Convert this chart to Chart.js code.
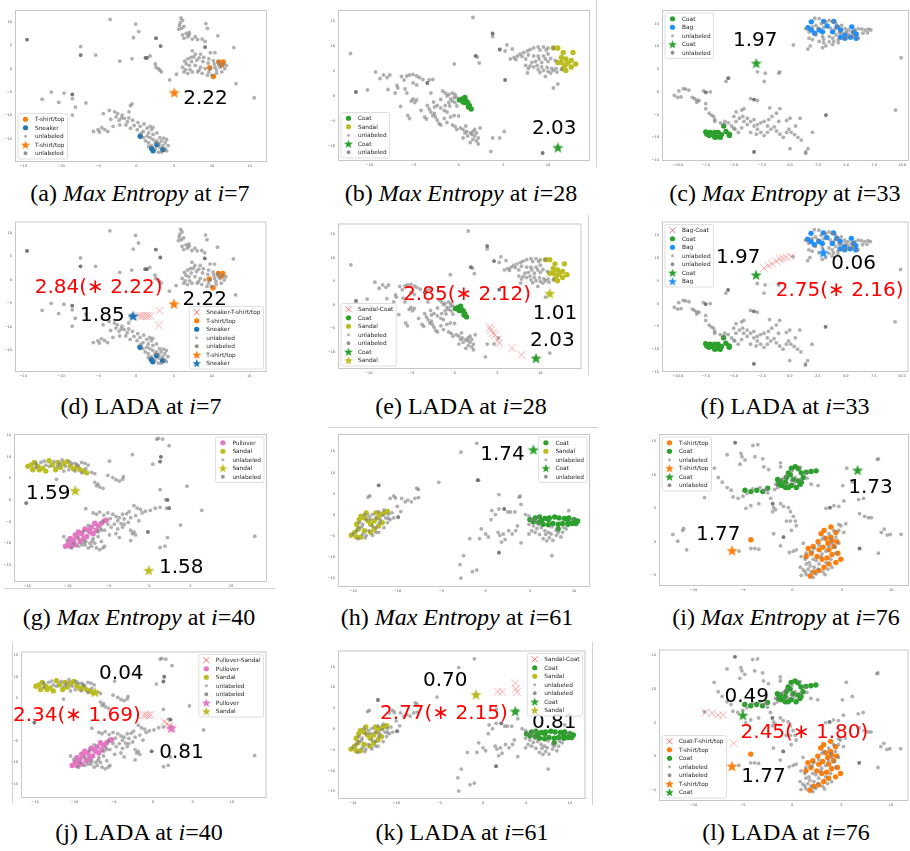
<!DOCTYPE html>
<html>
<head>
<meta charset="utf-8">
<script src="https://cdn.jsdelivr.net/npm/chart.js@4.4.1/dist/chart.umd.min.js"></script>
<style>
html, body { margin: 0; padding: 0; background: #fff; }
body { width: 910px; height: 851px; position: relative; overflow: hidden; }
canvas { position: absolute; }
.cap { position: absolute; font-family: "Liberation Serif", "Times New Roman", serif; font-size: 24px; line-height: 24px;
       color: #000; white-space: nowrap; transform: translateX(-50%); }
.rule { position: absolute; background: #d2d2d2; }
</style>
</head>
<body>
<script>
// ---------- embeddings: step 7 (T-shirt/top vs Sneaker) ----------
const fieldA = [[-14.5,6.2],[-3.5,10.5],[-0.1,9.5],[-0.4,6.6],[0.3,7.9],[-7.4,4.7],[-7.4,2.9],[-5.4,2.9],[-2.2,1.6],[-0.6,2.1],[1.2,2.3],[1.4,2.3],[1.8,2.7],[2.6,6.5],[3.2,4.8],[2.5,1.0],[2.6,0.3],[2.9,0],[3.1,-0.3],[3.3,-0.7],[4.4,-2.4],[5.3,-1.2],
 [5.9,10.8],[6.1,10.3],[5.7,9.2],[5.6,8.4],[6.0,8.6],[6.1,7.2],[6.6,7.5],[7.0,7.7],[6.8,6.8],[6.3,6.5],[7.4,6.3],[8.1,6.2],[8.7,6.3],[9.1,5.8],[9.1,4.6],[9.2,9.6],[9.4,8.6],[10.8,7.0],[12.9,4.5],[13.2,-3.2],[15.6,-6.2],[7.4,3.8],[7.8,3.1],[8.5,3.1],[9.8,3.4],[10.4,3.4],
 [6.8,2.1],[7.2,2.4],[7.6,2.5],[8.3,2.3],[8.9,2.4],[9.6,2.1],[10.2,1.7],[10.9,1.4],[11.5,1.0],[11.9,0.7],[11.7,0],[11.3,-0.7],[10.6,-1.0],[10.0,-1.4],[9.4,-1.4],[8.7,-1.0],[8.1,-0.7],[7.4,-0.7],[6.8,-1.0],[6.3,-0.7],[6.1,0.3],[6.6,1.0],[7.0,0.7],[7.8,0.7],[8.5,0.3],[9.1,0],[9.8,0],[10.4,0.3],[11.1,0.3],
 [6.4,1.6],[7.3,1.5],[8.0,1.8],[8.8,1.5],[9.5,1.2],[10.3,1.0],[10.9,0.8],[7.1,-0.2],[8.3,-0.3],[9.6,-0.7],[10.6,-0.3],[6.5,-0.2],[5.8,9.8],[6.3,9.0],[7.0,7.2],[7.8,6.8],
 [-12.5,-6.5],[-11.3,-5.0],[-10.3,-7.2],[-9.6,-5.2],[-8.5,-5.5],[-8.5,-6.4],[-8.1,-8.2],[-8.5,-9.9],[-6.7,-7.3],[-5.7,-13.4],[-4.9,-13.5],[-4.2,-13.0],[-3.8,-13.4],[-5.1,-13.0],[-4.4,-9.6],[-3.6,-8.9],
 [-3.4,-10.8],[-2.9,-9.2],[-2.7,-10.3],[-2.5,-9.6],[-2.3,-11.0],[-1.9,-9.9],[-1.6,-10.6],[-1.2,-11.3],[-0.8,-7.9],[-0.6,-7.5],[-1.0,-9.2],[-3.1,-12.3],
 [-1.4,-12.0],[-0.8,-12.7],[-0.3,-12.1],[0.1,-13.0],[0.5,-12.3],[0.9,-13.4],[1.4,-12.7],[1.6,-13.7],[2.0,-13.0],[2.2,-14.0],[2.7,-13.7],[3.1,-14.7],[3.3,-15.4],[3.8,-15.8],[4.0,-15.1],[3.5,-16.4],[3.1,-16.8],[2.7,-15.4],[2.2,-15.1],[1.8,-14.7],[1.4,-14.4],[0.9,-14.7],[1.2,-15.4],[1.6,-15.8],[2.0,-16.4],[2.5,-17.1],[2.9,-17.8],[3.3,-17.8],[3.8,-17.1],[4.2,-16.4],[4.0,-17.5],[1.8,-12.3],[2.2,-12.5],
 [-2.0,-10.5],[-1.0,-10.5],[0.2,-11.5],[1.0,-11.8],[-0.5,-11.0],[2.5,-15.8],[3.0,-16.0],[1.6,-16.6],[3.6,-14.8],[0.6,-13.8],[-2.2,-12.0],[-4.6,-12.6]];
const fieldADark = [[-14.5,6.2],[-7.4,2.9],[3.2,4.8],[-8.5,-5.5],[1.2,2.3],[1.4,2.3],[9.1,4.6],[2.6,6.5]];
const tshirtA = [[9.7,0.2],[10.2,-1.7],[10.9,1.4],[11.5,1.4],[11.3,0.8]];
const sneakerA = [[0.5,-14.4],[2.0,-17.0],[2.2,-17.5],[2.7,-16.2],[3.5,-17.3]];
const queryA_tshirt = [[5.0,-5.1]];
const queryD_tshirt = [[5.0,-5.1]];
const queryD_sneaker = [[-0.4,-7.7]];
const pathD = [[0.3,-7.7],[0.6,-7.7],[0.95,-7.7],[1.3,-7.7],[1.6,-7.7],[1.9,-7.7],[3.1,-6.6],[3.0,-9.7]];

// ---------- embeddings: step 28 (Coat vs Sandal) ----------
const fieldB = [[-12.1,8.5],[-11.5,0.8],[-10.2,1.2],[-9.3,4.8],[-8.8,3.5],[-8.4,4.2],[-8.0,3.7],[-7.7,4.2],[-7.9,1.3],[-7.1,0.6],[-6.9,2.1],[-6.8,1.6],[-6.5,-2.1],
 [-6.4,3.9],[-6.1,3.2],[-5.8,4.0],[-5.5,4.2],[-5.1,4.3],[-4.7,4.0],[-4.4,3.7],[-4.0,3.3],[-6.0,1.4],[-5.8,0.6],[-5.1,2.6],[-4.7,2.2],[-5.3,-1.0],[-4.9,-1.3],[-5.1,-0.6],[-4.7,-0.8],[-5.7,-3.9],[-5.5,-4.5],[-4.2,-2.9],[-3.8,-4.2],[-3.6,-4.6],[-3.5,2.6],[-3.3,3.2],[-2.9,3.3],[-3.1,0.6],
 [-3.5,-1.9],[-3.3,-2.6],[-3.1,-3.2],[-2.9,-3.9],[-2.7,-3.5],[-2.6,-4.2],[-2.4,-4.8],[-2.2,-5.5],[-2.7,-2.2],[-2.4,-1.9],[-2.0,-2.4],[-1.6,-2.9],[-1.5,-1.9],[-1.1,-1.3],[-0.7,-1.0],[-0.4,-1.3],[-1.3,-3.2],[-0.9,-4.2],[-0.5,-3.9],[-1.6,-4.5],[-2.0,-5.8],[-1.3,-5.3],
 [-1.8,1.0],[-1.5,0.6],[-1.1,0.3],[-0.7,0.6],[-0.4,0.3],[-0.2,-0.3],[-0.5,-0.3],[-0.9,-0.6],[-1.3,0],
 [-0.7,-5.8],[-0.4,-6.1],[-0.2,-6.7],[0.2,-6.4],[0.5,-6.7],[0.7,-7.4],[0.9,-7.1],[1.3,-7.4],[1.5,-7.7],[1.6,-7.1],[1.8,-6.7],[2.0,-7.4],[2.2,-8.4],[2.0,-9.0],[1.6,-8.7],[1.3,-9.3],[2.2,-9.6],[2.4,-6.4],[0.5,-8.4],
 [-2.8,-1.2],[-2.0,-0.7],[-1.0,-2.0],[-0.2,-2.0],[0.0,-4.0],[0.8,-6.0],[1.0,-8.0],[1.8,-8.0],
 [1.6,15.7],[3.8,12.5],[3.8,11.9],[1.9,8.0],[2.1,7.8],[2.3,6.6],[-0.5,6.4],[3.6,-11.1],[3.8,-8.4],[4.6,-8.4],[5.1,-7.1],[5.2,3.2],[4.6,9.3],[5.2,9.0],[5.4,10.2],[6.0,9.4],[9.4,-11.4],[11.1,-10.3],[10.6,1.6],[11.1,2.4],[9.7,3.9],[7.7,4.6],
 [5.8,7.4],[6.2,7.7],[6.6,8.0],[6.9,8.4],[7.3,8.7],[7.7,9.0],[8.0,9.3],[8.4,9.6],[8.9,9.8],[9.5,9.8],[10.0,9.6],[10.6,9.6],[7.8,8.2],[8.4,8.0],[8.9,8.0],[9.5,8.0],[10.0,8.4],[7.5,7.4],[8.2,6.7],[8.8,6.1],[9.3,5.8],[9.9,5.7],[10.4,5.5],[10.9,5.5],[11.5,5.3],[8.4,5.8],[8.9,5.3],[9.5,5.1],[10.0,4.9],[10.6,5.1],[7.5,6.1],[7.8,5.5],[8.6,6.9],[9.3,6.7],[10.0,6.9],[10.8,7.1],
 [6.4,7.3],[7.1,7.9],[9.1,9.2],[9.8,9.2],[9.0,7.4],[9.7,7.4],[10.3,7.5],[8.0,6.0],[9.1,4.7],[10.3,4.6],[11.0,4.8]];
const fieldBDark = [[-11.5,0.8],[3.8,12.5],[5.2,3.2],[9.4,-11.4],[-3.5,2.6],[1.9,8.0],[4.6,9.3]];
const coatB = [[0.1,-0.8],[0.4,-0.6],[0.7,-0.3],[0.8,-1.0],[1.0,-1.3],[1.2,-1.9],[1.4,-2.6],[1.1,-2.2],[0.7,-1.3],[0.5,-1.2]];
const sandalB = [[10.6,9.6],[11.1,9.6],[11.7,8.7],[11.5,7.7],[12.0,7.4],[12.2,6.6],[11.9,6.1],[12.6,7.1],[12.8,8.7],[13.1,6.4],[12.6,5.8],[11.7,5.5],[12.0,5.1],[11.1,6.7],[11.5,6.7]];
const queryB_coat = [[11.1,-10.3]];
const queryE_coat = [[9.5,-11.4]];
const queryE_sandal = [[11.1,2.4]];
const pathE = [[4.1,-4.8],[4.2,-5.4],[4.5,-6.0],[4.7,-6.5],[5.0,-7.5],[5.2,-8.2],[6.7,-9.3],[7.8,-10.7]];

// ---------- embeddings: step 33 (Coat vs Bag) ----------
const fieldC = [[-10.3,-0.8],[-10.0,-1.2],[-9.7,-1.1],[-9.9,0.2],[-9.5,0.7],[-9.3,0.6],[-9.0,0.4],[-8.7,-1.2],[-8.5,-1.5],[-8.3,-1.8],[-8.1,-1.9],[-8.3,-2.3],[-7.7,0.2],[-7.5,-0.1],[-7.1,0],[-7.5,-2.6],[-7.5,-3.7],[-7.2,-4.7],[-7.0,-5.1],[-6.8,-5.4],[-6.7,-6.1],[-6.7,-6.5],
 [-6.2,-6.8],[-5.9,-7.2],[-5.8,-6.5],[-5.5,-6.8],[-5.2,-7.5],[-4.9,-8.2],[-4.6,-8.9],[-4.3,-7.9],[-4.8,-6.5],[-4.5,-5.8],[-4.2,-5.4],[-4.1,-3.7],[-4.3,-4.0],[-4.8,-4.4],[-5.0,-5.4],
 [-5.7,2.3],[-5.5,3.0],[-3.5,-1.5],[-3.2,-1.7],[-2.9,-1.9],[-2.9,4.4],[-2.2,4.1],[-2.3,2.3],[-1.0,4.1],[-0.9,4.4],[0.3,10.3],
 [-4.1,-6.5],[-3.8,-7.2],[-3.5,-6.5],[-3.2,-7.5],[-2.9,-8.2],[-2.6,-8.9],[-2.3,-9.6],[-2.0,-8.9],[-1.7,-8.2],[-1.4,-7.7],[-1.2,-8.6],[-0.9,-9.3],[-0.6,-10.0],[-0.3,-8.9],[-0.1,-8.2],[0.1,-8.9],[0.4,-9.4],[0.7,-10.0],[1.0,-10.6],[0,-5.8],[-0.3,-6.3],[-0.9,-3.7],[-1.2,-4.7],[-1.6,-5.4],[-1.9,-6.1],[-2.3,-6.5],[-2.6,-6.8],[-2.9,-7.2],[-3.2,-6.1],[-3.5,-8.9],[-3.0,-9.3],
 [-2.0,-7.5],[-1.0,-6.5],[0.5,-7.5],[-3.8,-5.8],[-5.0,-8.0],
 [-3.2,-13.2],[0,-12.5],[1.4,-13.2],[1.4,-13.5],[1.6,-12.5],[2.0,-8.9],[0.9,-5.8],[3.2,-5.1],[-1.8,-3.5],[9.4,-4.0],[9.9,7.5],
 [1.4,13.9],[1.7,13.2],[2.0,14.3],[2.3,14.6],[2.8,15.0],[3.2,15.4],[3.5,15.7],[3.8,15.4],[4.1,15.0],[4.3,14.3],[4.6,14.6],[4.9,13.9],[5.2,13.6],[5.5,13.2],[5.8,13.6],[6.1,13.9],[6.4,13.8],[6.7,13.6],[7.0,13.8],[7.2,13.6],[1.7,11.8],[2.0,11.5],[2.6,11.1],[3.0,10.8],[3.5,11.0],[3.9,11.1],[4.3,11.5],[4.8,11.8],[5.2,12.0],[5.7,12.2],[6.1,11.8],[2.9,12.2],[3.5,12.2],[4.1,12.5],[4.6,12.9],[5.2,12.7],[2.2,16.2],[2.6,16.1],[1.6,9.4],[1.8,10.1],[3.2,10.1],[3.8,10.4],[2.9,9.7],[4.3,10.8],
 [2.5,14.0],[3.0,14.2],[3.6,14.0],[4.0,13.8],[4.4,13.0],[5.0,13.2],[5.6,12.6],[6.5,12.9],[3.0,11.6],[3.8,11.8],[2.3,12.5],[6.9,13.0]];
const fieldCDark = [[3.2,-5.1],[-3.2,-13.2],[-5.5,3.0],[-3.2,-1.7],[-7.5,-0.1]];
const coatC = [[-7.5,-8.8],[-7.4,-9.3],[-7.1,-8.9],[-6.9,-9.4],[-6.7,-10.0],[-6.5,-9.9],[-6.2,-10.0],[-6.1,-9.4],[-5.9,-7.5],[-5.7,-8.7],[-5.4,-9.3],[-5.4,-9.6],[-7.2,-9.6],[-6.7,-8.9],[-6.4,-8.9]];
const bagC = [[1.6,14.1],[1.9,13.6],[2.6,13.6],[3.0,15.5],[3.3,14.5],[3.9,15.5],[4.2,14.3],[4.5,13.6],[4.9,12.5],[4.5,12.0],[4.9,11.8],[5.4,12.0],[5.7,13.2],[5.9,12.7],[5.9,11.8],[5.5,14.3],[1.9,15.4],[3.8,13.2],[2.9,13.2],[2.2,12.9]];
const queryC_coat = [[-3.0,6.3]];
const queryF_coat = [[-3.0,6.3]];
const queryF_bag = [[3.0,11.2]];
const pathF = [[-2.3,7.8],[-1.9,8.3],[-1.6,8.7],[-1.2,9.3],[-0.9,9.8],[-0.6,9.9],[-0.3,10.1],[0.1,10.3]];

// ---------- embeddings: step 40 (Pullover vs Sandal) ----------
const fieldG = [[-13.9,8.5],[-13.3,8.7],[-12.7,8.1],[-12.3,7.8],[-11.7,8.9],[-11.3,7.8],[-10.7,9.3],[-10.3,7.8],[-9.9,7.0],[-9.5,8.5],[-9.1,8.5],[-8.7,7.9],[-8.3,8.7],[-7.9,8.5],[-7.5,8.1],[-7.1,6.4],[-6.7,6.1],[-8.3,6.3],[-9.1,6.7],[-10.5,6.7],
 [-12.9,9.0],[-11.0,8.4],[-9.8,8.9],[-8.9,8.2],[-7.8,7.3],[-13.9,7.6],
 [-15.1,-0.7],[-11.4,4.8],[-6.7,4.1],[-6.5,3.3],[-6.3,3.7],[-6.1,3.0],[-5.7,2.7],[-5.1,5.7],[-4.5,5.2],[-4.1,4.7],[-3.7,4.4],[-3.3,4.8],[-3.2,5.4],[-4.9,9.0],[-2.1,10.5],[0.4,8.3],[1.3,8.9],[1.4,10.0],[0.9,14.1],[1.1,14.3],[1.6,14.1],[2.4,12.6],[1.3,2.4],[2.0,0.1],[2.2,0],[2.4,-1.9],[4.6,3.2],[6.4,-2.4],[3.8,-5.8],[2.2,-8.7],[1.9,-10.7],[1.3,-11.0],[-0.2,-7.4],[12.9,-8.4],
 [-7.8,-2.0],[-6.9,-3.0],[-6.5,-3.3],[-6.1,-2.8],[-5.6,-3.5],[-5.1,-3.0],[-4.5,-3.3],[-4.1,-3.8],[-3.7,-4.1],[-3.3,-3.3],[-2.8,-3.2],[-2.5,-2.7],[-1.9,-1.3],[-1.5,-1.9],[-1.1,-2.2],[-0.9,-3.0],[-0.5,-2.6],[0.1,-2.4],[0.7,-1.9],[1.3,-1.7],[2.1,-1.9],[-1.7,-3.6],[-2.3,-4.1],[-3.1,-4.4],[-3.9,-4.8],[-4.3,-5.6],[-4.7,-6.3],[-5.1,-5.6],[-5.7,-5.0],[-5.5,-7.0],[-4.9,-8.1],[-4.1,-7.8],[-3.7,-8.7],[-3.3,-6.3],[-2.3,-7.0],[-2.1,-7.8],[-1.9,-7.4],[-1.7,-8.1],[-2.3,-9.4],[-3.1,-5.6],[-3.9,-6.7],[-6.3,-8.5],[-5.9,-9.6],[-6.7,-10.0],[-6.5,-11.1],[-5.7,-11.1],[-5.5,-10.7],[-6.1,-11.5],[-7.1,-10.7],[-7.5,-11.1],[-7.9,-10.4],
 [-10.1,-9.3],[-9.5,-11.1],[-8.7,-10.7],[-8.3,-10.4],[-7.8,-9.6],[-7.3,-10.0],[-6.9,-8.9],[-6.3,-7.4],[-5.9,-7.0],[-7.5,-5.9],[-8.1,-7.2],[-8.7,-8.9],
 [-10.5,-8.5],[-9.3,-10.1],[-8.0,-9.8],[-7.0,-9.5],[-6.0,-6.5],[-4.8,-4.3],[-3.5,-5.5],[-2.6,-5.2],[-1.3,-4.8]];
const fieldGDark = [[-15.1,-0.7],[2.2,0],[2.4,-1.9],[-0.2,-7.4],[1.4,10.0],[1.3,8.9]];
const pulloverG = [[-10.3,-10.7],[-9.9,-10.0],[-9.7,-8.9],[-9.3,-9.3],[-8.9,-8.4],[-8.7,-7.4],[-8.3,-7.8],[-7.9,-6.7],[-7.5,-7.0],[-7.1,-6.3],[-6.7,-5.4],[-6.3,-5.9],[-5.9,-5.4],[-5.5,-4.8],[-5.3,-4.7],[-9.7,-10.7],[-9.1,-10.4],[-8.5,-9.6],[-8.1,-8.9],[-7.7,-8.5],[-7.3,-7.4],[-6.9,-7.8],[-6.5,-7.0],[-9.1,-8.1],[-9.5,-9.6]];
const sandalG = [[-14.9,7.8],[-14.5,8.1],[-14.1,8.7],[-13.7,7.8],[-13.1,7.4],[-12.3,9.1],[-11.9,8.1],[-11.5,7.0],[-10.9,7.6],[-10.5,8.5],[-10.1,8.9],[-9.7,7.9],[-9.3,7.2],[-8.9,7.6],[-8.5,7.0],[-8.1,6.7],[-7.7,6.3],[-12.7,6.7],[-13.5,7.0],[-14.3,7.0],[-11.2,8.7]];
const queryG_sandal = [[-9.1,2.2],[-0.1,-16.3]];
const queryJ_pullover = [[2.3,-2.0]];
const queryJ_sandal = [[-7.4,6.4]];
const pathJ = [[-1.2,1.0],[-0.9,1.0],[-0.6,1.0],[-0.3,1.1],[1.4,-0.5],[1.8,-1.0],[2.1,-1.5],[2.4,-2.0]];

// ---------- embeddings: step 61 (Coat vs Sandal) ----------
const fieldH = [[-15.0,-4.5],[-14.6,-3.7],[-14.3,-3.0],[-13.9,-2.2],[-13.5,-1.1],[-13.2,-0.3],[-12.8,0.1],[-12.4,-0.7],[-12.1,0.8],[-11.5,1.2],[-11.0,0.1],[-10.6,0.5],[-10.4,-0.7],[-10.8,-1.1],[-11.3,-0.7],[-11.9,-1.1],[-12.4,-3.0],[-13.2,-3.7],[-13.9,-4.5],[-14.4,-5.6],[-13.5,-4.8],[-12.8,-4.8],[-12.4,-4.1],[-11.1,-1.8],[-11.5,-3.0],[-12.1,-4.1],[-13.7,0.1],[-14.3,-1.8],
 [-14.0,-2.8],[-13.0,-1.0],[-12.0,-1.8],[-11.6,-0.1],[-12.8,-2.6],[-13.6,-5.4],[-11.0,-0.8],
 [-13.3,4.2],[-13.1,4.5],[-12.1,7.0],[-10.8,3.9],[-10.4,4.5],[-10.2,4.0],[-10.0,2.0],[-9.9,-0.5],[-9.5,3.9],[-9.1,3.1],[-8.8,3.5],[-8.4,3.1],[-8.0,3.9],[-7.6,4.1],[-7.8,6.3],[-7.6,6.0],[-9.6,0.8],[-5.3,7.7],[-2.8,14.8],[-1.0,16.9],[-0.9,8.2],[-0.8,8.2],
 [1.5,4.8],[3.8,4.2],[3.9,4.5],[4.0,2.5],[1.5,1.4],[2.1,1.4],[2.5,0.7],[2.8,0.7],[3.3,0.7],[0.7,1.0],[1.1,0.1],[0.6,-1.1],[-0.5,-3.3],[0,-4.5],[0.3,-5.2],[-1.8,-5.6],[-0.7,-5.6],[1.4,-4.1],[1.6,-4.8],[2.0,-4.5],[2.2,-5.8],[2.6,-3.7],[3.0,-4.5],[3.4,-3.7],[3.6,-2.6],[4.0,-6.6],[1.8,-6.4],[1.5,-8.9],[-2.5,-9.6],[-2.9,-11.7],[-2.8,-14.9],[-1.5,-13.4],[-1.0,-13.0],[7.5,-9.6],[9.4,1.0],
 [4.5,0.1],[4.9,-0.3],[5.2,-1.1],[5.6,-1.4],[6.0,-2.2],[6.3,-3.0],[6.7,-3.7],[7.1,-4.1],[7.4,-4.5],[8.0,-4.8],[8.5,-5.2],[5.2,-3.7],[5.6,-4.1],[6.1,-4.6],[6.5,-5.6],[6.9,-6.1],[7.2,-5.4],[7.6,-6.0],[8.2,-4.1],[8.7,-4.1],[9.1,-3.3],[4.9,-2.2],[5.4,-2.6],[4.9,-4.5],
 [6.0,-0.6],[7.5,-2.8],[8.8,-2.9],[9.8,-1.0],[6.8,-4.6],[5.8,-3.2],[8.0,-3.6]];
const fieldHDark = [[-12.1,7.0],[1.5,-8.9],[-0.9,8.2],[2.1,1.4],[-9.9,-0.5]];
const coatH = [[5.0,-1.1],[5.6,-0.7],[6.1,-0.5],[6.7,-0.8],[7.2,-0.7],[7.8,-0.5],[8.3,-0.7],[8.9,-0.8],[9.4,-0.7],[10.0,-1.1],[10.4,-1.4],[9.8,-2.0],[9.3,-2.2],[8.7,-2.0],[8.2,-2.2],[7.6,-2.0],[7.1,-2.3],[6.5,-2.2],[6.0,-1.8],[5.4,-1.6],[8.2,-3.3],[7.1,-1.1],[9.3,-1.4],[10.2,-2.0],[6.3,-1.3]];
const sandalH = [[-15.2,-4.8],[-14.8,-4.1],[-14.4,-3.3],[-14.6,-2.2],[-14.3,-1.1],[-14.1,-0.3],[-13.7,-0.7],[-13.3,-1.4],[-13.0,-2.2],[-12.6,-1.4],[-12.2,-0.7],[-11.9,0.1],[-11.5,0.5],[-11.1,0.8],[-13.0,-4.1],[-12.6,-3.3],[-12.1,-2.6],[-11.7,-1.8],[-13.7,-3.7],[-14.1,-5.2],[-14.6,-5.2],[-13.5,0.5],[-12.4,0.5]];
const queryH_coat = [[5.4,15.4]];
const queryK_coat = [[3.7,4.3]];
const queryK_sandal = [[-0.8,8.3]];
const pathK = [[1.7,9.0],[2.2,9.0],[3.7,11.0],[3.8,9.7],[3.9,8.9]];

// ---------- embeddings: step 76 (T-shirt/top vs Coat) ----------
const fieldI = [[-12.1,1.1],[-11.6,0.1],[-11.1,1.7],[-11.0,2.0],[-10.7,-1.2],[-8.9,6.6],[-7.9,11.0],[-6.6,13.0],[-5.8,14.8],[-5.2,13.2],[-5.1,12.7],[-4.8,12.2],[-5.3,11.6],[-4.0,14.4],[-3.5,14.5],[-3.8,12.7],[-3.0,12.4],[-2.9,11.2],[-2.4,10.8],[-1.2,11.8],[-7.5,9.6],[-7.1,8.9],[-6.6,8.1],[-6.2,7.7],[-6.0,6.7],[-5.5,6.5],[-5.0,6.8],[-4.6,7.2],[-4.2,5.4],[-4.7,5.0],[-3.4,5.7],[-2.9,7.7],[-2.5,7.3],[-2.2,6.5],[-2.0,5.7],[-1.9,5.1],[-1.7,4.8],[-2.0,4.5],[-1.2,5.7],[-0.9,5.3],[-0.4,5.1],[-0.2,4.5],[0.1,3.8],[0.3,3.1],[-0.2,3.1],[-0.6,3.1],[0.4,2.4],[-0.1,1.7],[-1.7,8.6],[-1.5,8.1],[-1.1,9.3],[0.8,9.3],[1.4,10.3],[1.9,8.6],[2.6,8.4],[3.4,5.0],[3.8,5.1],[4.2,5.4],[4.7,5.3],[5.2,6.1],[5.1,8.4],[5.5,11.0],[6.1,8.9],[6.7,6.3],[7.2,6.5],[6.8,4.2],[7.3,3.8],[7.7,3.6],[8.0,3.6],[8.6,12.3],[8.7,12.4],[9.0,1.4],[9.3,1.9],[9.6,1.0],[9.9,1.1],[11.0,1.1],[6.8,-1.0],[8.7,-1.7],[-5.4,-1.4],[-4.2,-1.0],[-3.8,-1.0],[-3.4,-1.1],[-1.2,-0.6],[-0.9,0.7],[-1.9,1.2],[-0.3,-1.6],[0.1,-1.4],[0.4,-1.2],[1.1,-0.2],[-1.2,11.2],[-0.6,9.9],[-0.1,9.1],[0.3,9.6],[-0.9,9.5],[0.2,8.8],[-1.8,7.8],[-3.3,8.1],
 [0.0,10.6],[0.8,11.1],[-0.5,8.7],[1.5,9.5],[-2.6,7.9],[-4.0,7.9],
 [0.9,-2.2],[1.3,-2.6],[1.4,-3.3],[1.7,-3.1],[2.1,-2.6],[1.6,-4.1],[1.3,-4.5],[0.9,-5.0],[1.4,-4.9],[1.9,-4.5],[2.2,-3.8],[2.6,-4.1],[2.7,-3.3],[3.1,-4.5],[3.4,-3.1],[2.9,-2.2],[3.4,-1.4],[3.7,-0.7],[4.0,-0.2],[4.4,0.7],[4.7,1.7],[4.9,2.4],[5.4,2.7],[5.2,1.4],[4.7,-0.2],[4.4,-1.7],[3.9,-2.6],[3.6,-4.1],[2.4,-4.8],[2.1,-5.3],[0.8,-3.8],[1.4,-1.7],[2.2,-1.0],[2.7,-0.5],[3.2,0.7],[3.7,1.2],[4.2,1.7],[4.7,2.6],
 [1.8,-3.6],[2.4,-2.8],[3.0,-1.8],[2.0,-1.5],[3.3,-4.9],[1.1,-4.2],[4.0,-3.8],[3.9,0.4],[4.3,-0.8],[3.0,0.4]];
const fieldIDark = [[3.8,5.1],[-0.9,0.7],[-2.0,5.7],[6.8,-1.0],[-5.8,14.8]];
const tshirtI = [[3.9,2.2],[3.2,1.7],[2.9,1.2],[3.4,0.5],[3.9,0.7],[4.4,1.4],[4.5,0],[4.2,-0.7],[3.7,-1.2],[3.1,-0.8],[2.6,0],[2.1,-0.7],[1.9,-1.7],[2.5,-2.2],[3.0,-2.6],[3.5,-2.4],[4.0,-1.9],[4.6,-1.7],[4.9,-2.6],[4.4,-3.1],[3.7,-3.3],[3.2,-3.8],[2.7,-4.3],[2.2,-4.5],[1.8,-5.1],[1.4,-2.2],[1.6,-1.0],[2.7,-1.2],[3.6,-0.2],[4.0,0.2],[-4.2,0.3]];
const coatI = [[-4.8,7.7],[-4.2,7.5],[-3.6,7.7],[-3.0,7.5],[-2.5,8.0],[-1.4,8.6],[-1.1,8.4],[-0.7,8.9],[-0.6,9.6],[-0.4,10.3],[-0.1,11.0],[0.3,11.2],[0.6,10.9],[0.9,10.3],[1.1,9.6],[0.8,8.6],[0.4,8.1],[-0.1,8.4],[-0.4,8.1],[-0.7,8.1],[0.1,9.3],[0.6,9.1],[0.9,8.9],[1.4,10.4],[1.9,10.5],[2.4,10.6],[-0.2,10.0],[-1.2,9.1],[-1.5,9.3]];
const queryI_tshirt = [[-6.1,-1.3]];
const queryI_coat = [[6.6,10.7]];
const queryL_tshirt = [[-6.1,-1.5]];
const queryL_coat = [[-5.0,6.1]];
const pathL = [[-8.8,6.5],[-8.1,6.4],[-7.5,6.1],[-7.0,6.1],[-5.9,1.9]];

// ---------- uncertainty scores printed on each panel ----------
const scoresA = ["2.22"];
const scoresB = ["2.03"];
const scoresC = ["1.97"];
const scoresD = ["2.84(∗ 2.22)", "1.85", "2.22"];
const scoresE = ["2.85(∗ 2.12)", "1.01", "2.03"];
const scoresF = ["1.97", "0.06", "2.75(∗ 2.16)"];
const scoresG = ["1.59", "1.58"];
const scoresH = ["1.74"];
const scoresI = ["1.77", "1.73"];
const scoresJ = ["0.04", "2.34(∗ 1.69)", "0.81"];
const scoresK = ["0.70", "2.77(∗ 2.15)", "0.81"];
const scoresL = ["0.49", "2.45(∗ 1.80)", "1.77"];

// ---------- captions ----------
const panelLetters = ["a","b","c","d","e","f","g","h","i","j","k","l"];
const panelMethods = ["Max Entropy","Max Entropy","Max Entropy","LADA","LADA","LADA","Max Entropy","Max Entropy","Max Entropy","LADA","LADA","LADA"];
const panelSteps = [7, 28, 33, 7, 28, 33, 40, 61, 76, 40, 61, 76];

// ---------- styling ----------
const COL = { tshirt: '#ff7f0e', sneaker: '#1f77b4', coat: '#2ca02c', sandal: '#bcbd22', bag: '#1e90ff', pullover: '#e377c2' };
const GRAY = 'rgba(128,128,128,0.62)';
const GRAY_DARK = 'rgba(100,100,100,0.7)';
const XRED = 'rgba(255,0,0,0.3)';
const FONT = '"DejaVu Sans", "Liberation Sans", sans-serif';

function starImage(color, r) {
  const size = Math.ceil(r * 2 + 2);
  const c = document.createElement('canvas');
  c.width = c.height = size;
  const g = c.getContext('2d');
  g.translate(size / 2, size / 2 + r * 0.08);
  g.beginPath();
  for (let k = 0; k < 10; k++) {
    const rr = k % 2 === 0 ? r : r * 0.4;
    const ang = -Math.PI / 2 + k * Math.PI / 5;
    g.lineTo(rr * Math.cos(ang), rr * Math.sin(ang));
  }
  g.closePath();
  g.fillStyle = color;
  g.fill();
  return c;
}
const STARS = {};
Object.keys(COL).forEach(k => { STARS[k] = starImage(COL[k], 6); });

const pts = arr => arr.map(([x, y]) => ({ x, y }));
const dotSet = (arr, key, label) => ({ label, data: pts(arr), pointStyle: 'circle', pointRadius: 2.7,
  pointBackgroundColor: COL[key], pointBorderWidth: 0, legendR: 2.6 });
const graySet = arr => ({ label: 'unlabeled', data: pts(arr), pointStyle: 'circle', pointRadius: 1.9,
  pointBackgroundColor: GRAY, pointBorderWidth: 0, legendR: 1.5 });
const darkSet = arr => ({ label: 'unlabeled', data: pts(arr), pointStyle: 'circle', pointRadius: 1.9,
  pointBackgroundColor: GRAY_DARK, pointBorderWidth: 0, legendR: 1.9 });
const starSet = (arr, key, label) => ({ label, data: pts(arr), pointStyle: STARS[key], pointRadius: 6,
  pointBorderWidth: 0 });
const crossSet = (arr, label) => ({ label, data: pts(arr), pointStyle: 'crossRot', pointRadius: 5.5,
  pointBorderColor: XRED, pointBackgroundColor: 'rgba(0,0,0,0)', pointBorderWidth: 1 });

// ---------- panel layout (plot-box edges in page pixels, axis ranges) ----------
const panels = [
  { L: 15, T: 4, R: 273, B: 162, x: [-16.1, 17.3], y: [-19.9, 12.5], legend: 'lower left',
    sets: [dotSet(tshirtA, 'tshirt', 'T-shirt/top'), dotSet(sneakerA, 'sneaker', 'Sneaker'), graySet(fieldA),
           starSet(queryA_tshirt, 'tshirt', 'T-shirt/top'), darkSet(fieldADark)],
    notes: [[scoresA[0], 9.15, -6.5, '#000']] },
  { L: 338, T: 4, R: 596, B: 161, x: [-13.5, 14.7], y: [-13.0, 17.2], legend: 'lower left',
    sets: [dotSet(coatB, 'coat', 'Coat'), dotSet(sandalB, 'sandal', 'Sandal'), graySet(fieldB),
           starSet(queryB_coat, 'coat', 'Coat'), darkSet(fieldBDark)],
    notes: [[scoresB[0], 10.7, -6.6, '#000']] },
  { L: 662, T: 4, R: 915, B: 161, x: [-11.4, 10.6], y: [-15.2, 18.0], xStep: 2.5, legend: 'upper left',
    sets: [dotSet(coatC, 'coat', 'Coat'), dotSet(bagC, 'bag', 'Bag'), graySet(fieldC),
           starSet(queryC_coat, 'coat', 'Coat'), darkSet(fieldCDark)],
    notes: [[scoresC[0], -3.1, 11.3, '#000']] },
  { L: 15, T: 215, R: 273, B: 372, x: [-16.1, 17.3], y: [-19.7, 12.5], legend: 'lower right',
    sets: [crossSet(pathD, 'Sneaker-T-shirt/top'), dotSet(tshirtA, 'tshirt', 'T-shirt/top'), dotSet(sneakerA, 'sneaker', 'Sneaker'),
           graySet(fieldA), darkSet(fieldADark), starSet(queryD_tshirt, 'tshirt', 'T-shirt/top'), starSet(queryD_sneaker, 'sneaker', 'Sneaker')],
    notes: [[scoresD[0], -5.0, -1.6, '#ff0000'], [scoresD[1], -4.5, -7.6, '#000'], [scoresD[2], 9.1, -4.3, '#000']] },
  { L: 338, T: 217, R: 588, B: 369, x: [-13.6, 14.8], y: [-13.7, 17.3], legend: 'lower left',
    sets: [crossSet(pathE, 'Sandal-Coat'), dotSet(coatB, 'coat', 'Coat'), dotSet(sandalB, 'sandal', 'Sandal'),
           graySet(fieldB), darkSet(fieldBDark), starSet(queryE_coat, 'coat', 'Coat'), starSet(queryE_sandal, 'sandal', 'Sandal')],
    notes: [[scoresE[0], 1.45, 2.2, '#ff0000'], [scoresE[1], 11.7, -1.9, '#000'], [scoresE[2], 11.4, -7.7, '#000']] },
  { L: 662, T: 215, R: 915, B: 372, x: [-11.4, 10.6], y: [-15.0, 18.0], xStep: 2.5, legend: 'upper left',
    sets: [crossSet(pathF, 'Bag-Coat'), dotSet(coatC, 'coat', 'Coat'), dotSet(bagC, 'bag', 'Bag'),
           graySet(fieldC), darkSet(fieldCDark), starSet(queryF_coat, 'coat', 'Coat'), starSet(queryF_bag, 'bag', 'Bag')],
    notes: [[scoresF[0], -4.6, 10.1, '#000'], [scoresF[1], 5.7, 8.8, '#000'], [scoresF[2], 4.45, 2.9, '#ff0000']] },
  { L: 14, T: 428, R: 273, B: 582, x: [-16.6, 14.4], y: [-19.0, 15.3], legend: 'upper right',
    sets: [dotSet(pulloverG, 'pullover', 'Pullover'), dotSet(sandalG, 'sandal', 'Sandal'), graySet(fieldG),
           starSet(queryG_sandal, 'sandal', 'Sandal'), darkSet(fieldGDark)],
    notes: [[scoresG[0], -12.4, 1.5, '#000'], [scoresG[1], 3.9, -15.6, '#000']] },
  { L: 338, T: 428, R: 596, B: 587, x: [-16.7, 11.8], y: [-17.0, 19.1], legend: 'upper right',
    sets: [dotSet(coatH, 'coat', 'Coat'), dotSet(sandalH, 'sandal', 'Sandal'), graySet(fieldH),
           starSet(queryH_coat, 'coat', 'Coat'), darkSet(fieldHDark)],
    notes: [[scoresH[0], 1.9, 14.3, '#000']] },
  { L: 659, T: 428, R: 915, B: 586, x: [-13.5, 11.8], y: [-6.6, 16.1], legend: 'upper left',
    sets: [dotSet(tshirtI, 'tshirt', 'T-shirt/top'), dotSet(coatI, 'coat', 'Coat'), graySet(fieldI),
           starSet(queryI_tshirt, 'tshirt', 'T-shirt/top'), starSet(queryI_coat, 'coat', 'Coat'), darkSet(fieldIDark)],
    notes: [[scoresI[0], -7.5, 1.1, '#000'], [scoresI[1], 7.9, 8.0, '#000']] },
  { L: 21, T: 645, R: 273, B: 798, x: [-16.8, 14.4], y: [-18.3, 15.9], legend: 'upper right',
    sets: [crossSet(pathJ, 'Pullover-Sandal'), dotSet(pulloverG, 'pullover', 'Pullover'), dotSet(sandalG, 'sandal', 'Sandal'),
           graySet(fieldG), darkSet(fieldGDark), starSet(queryJ_pullover, 'pullover', 'Pullover'), starSet(queryJ_sandal, 'sandal', 'Sandal')],
    notes: [[scoresJ[0], -4.05, 10.7, '#000'], [scoresJ[1], -9.7, 0.8, '#ff0000'], [scoresJ[2], 3.6, -7.8, '#000']] },
  { L: 338, T: 644, R: 592, B: 799, x: [-16.7, 11.8], y: [-16.8, 18.9], legend: 'upper right',
    sets: [crossSet(pathK, 'Sandal-Coat'), dotSet(coatH, 'coat', 'Coat'), dotSet(sandalH, 'sandal', 'Sandal'),
           graySet(fieldH), darkSet(fieldHDark), starSet(queryK_coat, 'coat', 'Coat'), starSet(queryK_sandal, 'sandal', 'Sandal')],
    notes: [[scoresK[0], -4.35, 11.5, '#000'], [scoresK[1], -4.5, 3.8, '#ff0000'], [scoresK[2], 8.2, 1.4, '#000']] },
  { L: 659, T: 643, R: 915, B: 801, x: [-13.5, 11.8], y: [-6.7, 15.9], legend: 'lower left',
    sets: [crossSet(pathL, 'Coat-T-shirt/top'), dotSet(tshirtI, 'tshirt', 'T-shirt/top'), dotSet(coatI, 'coat', 'Coat'),
           graySet(fieldI), darkSet(fieldIDark), starSet(queryL_tshirt, 'tshirt', 'T-shirt/top'), starSet(queryL_coat, 'coat', 'Coat')],
    notes: [[scoresL[0], -4.6, 8.8, '#000'], [scoresL[1], 1.25, 3.5, '#ff0000'], [scoresL[2], -2.9, -3.1, '#000']] }
];

const captionPos = [[140, 181], [461, 181], [785, 181], [141, 394], [461, 394], [785, 394],
                    [139, 605], [457, 605], [786, 605], [139, 820], [462, 820], [786, 820]];

// thin frame edges left over around a few panels
const rules = [[596, 0, 1, 167], [588, 215, 1, 160], [4, 588, 271, 1], [328, 427, 270, 1], [12, 643, 1, 160], [592, 642, 1, 163]];

const AXIS_W = 14, AXIS_H = 9;

function legendMarker(ctx, s, x, y) {
  const st = s.pointStyle;
  if (st instanceof HTMLCanvasElement) {
    ctx.drawImage(st, x - 5.5, y - 5.5, 11, 11);
  } else if (st === 'crossRot') {
    ctx.strokeStyle = 'rgba(255,0,0,0.55)';
    ctx.lineWidth = 1;
    ctx.beginPath();
    ctx.moveTo(x - 3, y - 3); ctx.lineTo(x + 3, y + 3);
    ctx.moveTo(x - 3, y + 3); ctx.lineTo(x + 3, y - 3);
    ctx.stroke();
  } else {
    ctx.fillStyle = s.pointBackgroundColor;
    ctx.beginPath();
    ctx.arc(x, y, s.legendR, 0, Math.PI * 2);
    ctx.fill();
  }
}

function drawLegend(ctx, a, sets, loc) {
  const fs = 5.8, rowH = 8.5, inset = 3, textOff = 17;
  ctx.font = fs + 'px ' + FONT;
  const tw = Math.max(...sets.map(s => ctx.measureText(s.label).width));
  const w = textOff + tw + 3, h = sets.length * rowH + 3;
  const x = loc.includes('left') ? a.left + inset : a.right - inset - w;
  const y = loc.includes('upper') ? a.top + inset : a.bottom - inset - h;
  const r = 2;
  ctx.beginPath();
  ctx.moveTo(x + r, y);
  ctx.arcTo(x + w, y, x + w, y + h, r);
  ctx.arcTo(x + w, y + h, x, y + h, r);
  ctx.arcTo(x, y + h, x, y, r);
  ctx.arcTo(x, y, x + w, y, r);
  ctx.closePath();
  ctx.fillStyle = 'rgba(255,255,255,0.85)';
  ctx.fill();
  ctx.strokeStyle = '#d6d6d6';
  ctx.lineWidth = 0.8;
  ctx.stroke();
  sets.forEach((s, i) => {
    const cy = y + 1.5 + rowH * (i + 0.5);
    legendMarker(ctx, s, x + 7.5, cy);
    ctx.fillStyle = '#262626';
    ctx.textAlign = 'left';
    ctx.textBaseline = 'middle';
    ctx.fillText(s.label, x + textOff, cy + 0.3);
  });
}

function decorPlugin(p) {
  return {
    id: 'decor',
    afterDatasetsDraw(chart) {
      const { ctx, chartArea: a, scales } = chart;
      ctx.save();
      ctx.strokeStyle = '#c6c6c6';
      ctx.lineWidth = 1;
      ctx.strokeRect(a.left + 0.5, a.top + 0.5, a.right - a.left - 1, a.bottom - a.top - 1);
      ctx.font = '20px ' + FONT;
      ctx.textAlign = 'center';
      ctx.textBaseline = 'middle';
      p.notes.forEach(([text, x, y, color]) => {
        ctx.fillStyle = color;
        ctx.fillText(text, scales.x.getPixelForValue(x), scales.y.getPixelForValue(y));
      });
      drawLegend(ctx, a, chart.data.datasets, p.legend);
      ctx.restore();
    }
  };
}

const fmt = step => v => {
  const s = step < 5 ? Math.abs(v).toFixed(1) : String(Math.abs(v));
  return (v < 0 ? '\u2212' : '') + s;
};

panels.forEach((p, idx) => {
  // series are layered in legend order: the first entry sits at the bottom
  p.sets.forEach((s, i) => { s.order = -i; });
  const cv = document.createElement('canvas');
  const w = (p.R - p.L) + AXIS_W, h = (p.B - p.T) + AXIS_H;
  cv.width = w; cv.height = h;
  cv.style.left = (p.L - AXIS_W) + 'px';
  cv.style.top = p.T + 'px';
  cv.style.width = w + 'px';
  cv.style.height = h + 'px';
  document.body.appendChild(cv);
  const xStep = p.xStep || 5;
  new Chart(cv, {
    type: 'scatter',
    data: { datasets: p.sets },
    options: {
      responsive: false, animation: false, devicePixelRatio: 1, events: [],
      layout: { padding: 0 },
      plugins: { legend: { display: false }, tooltip: { enabled: false } },
      scales: {
        x: {
          type: 'linear', min: p.x[0], max: p.x[1],
          grid: { display: false, drawTicks: false }, border: { display: false },
          ticks: { stepSize: xStep, includeBounds: false, autoSkip: false, maxRotation: 0, minRotation: 0,
                   padding: 2, color: '#555', font: { size: 3.6, family: FONT }, callback: fmt(xStep) },
          afterFit(s) { s.height = AXIS_H; s.paddingLeft = 0; s.paddingRight = 0; }
        },
        y: {
          type: 'linear', min: p.y[0], max: p.y[1],
          grid: { display: false, drawTicks: false }, border: { display: false },
          ticks: { stepSize: 5, includeBounds: false, autoSkip: false, padding: 3, color: '#555',
                   font: { size: 3.6, family: FONT }, callback: fmt(5) },
          afterFit(s) { s.width = AXIS_W; s.paddingTop = 0; s.paddingBottom = 0; }
        }
      }
    },
    plugins: [decorPlugin(p)]
  });

  const cap = document.createElement('div');
  cap.className = 'cap';
  cap.style.left = captionPos[idx][0] + 'px';
  cap.style.top = captionPos[idx][1] + 'px';
  cap.innerHTML = '(' + panelLetters[idx] + ') ' +
    (panelMethods[idx] === 'LADA' ? 'LADA' : '<i>' + panelMethods[idx] + '</i>') +
    ' at <i>i</i>=' + panelSteps[idx];
  document.body.appendChild(cap);
});

rules.forEach(([l, t, w, h]) => {
  const d = document.createElement('div');
  d.className = 'rule';
  d.style.left = l + 'px'; d.style.top = t + 'px';
  d.style.width = w + 'px'; d.style.height = h + 'px';
  document.body.appendChild(d);
});
</script>
</body>
</html>
